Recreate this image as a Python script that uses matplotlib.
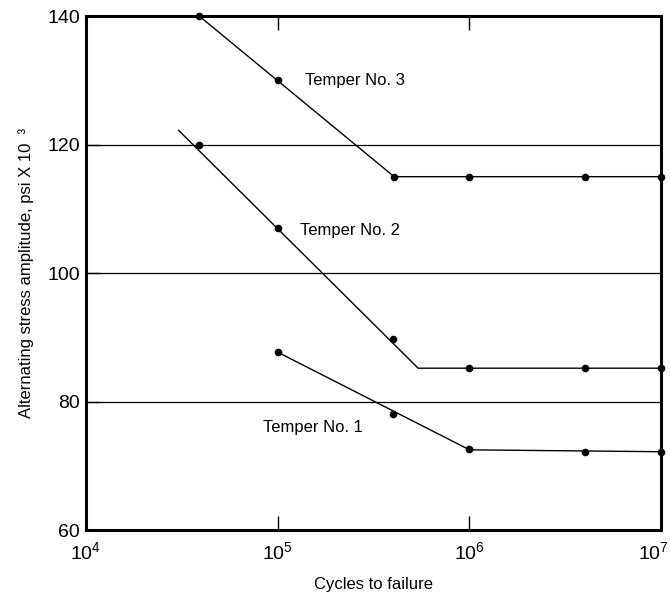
import matplotlib.pyplot as plt
from matplotlib.transforms import ScaledTranslation

plt.rcParams['font.family'] = ['Liberation Sans', 'DejaVu Sans']
plt.rcParams['mathtext.fontset'] = 'custom'
plt.rcParams['mathtext.rm'] = 'Liberation Sans'
plt.rcParams['mathtext.it'] = 'Liberation Sans:italic'

# Temper No. 3
t3_line_x = [3.9e4, 4.05e5, 1e7]
t3_line_y = [140, 115, 115]
t3_pts_x = [3.9e4, 1e5, 4.05e5, 1e6, 4e6, 1e7]
t3_pts_y = [140, 130, 115, 115, 115, 115]

# Temper No. 2
t2_line_x = [3.05e4, 5.4e5, 1e7]
t2_line_y = [122.2, 85.2, 85.2]
t2_pts_x = [3.9e4, 1e5, 4e5, 1e6, 4e6, 1e7]
t2_pts_y = [120, 107, 89.7, 85.2, 85.2, 85.2]

# Temper No. 1
t1_line_x = [1e5, 1e6, 1e7]
t1_line_y = [87.7, 72.5, 72.2]
t1_pts_x = [1e5, 4e5, 1e6, 4e6, 1e7]
t1_pts_y = [87.7, 78, 72.6, 72.2, 72.2]

labels = ['Temper No. 3', 'Temper No. 2', 'Temper No. 1']
label_x = [1.39e5, 1.31e5, 8.4e4]
label_y = [130.0, 106.7, 75.9]

y_ticks = [60, 80, 100, 120, 140]
x_ticks = [1e4, 1e5, 1e6, 1e7]
x_ticklabels = [r'$10^{4}$', r'$10^{5}$', r'$10^{6}$', r'$10^{7}$']

fig = plt.figure(figsize=(6.7, 5.93), dpi=100)
ax = fig.add_axes([0.128, 0.106, 0.859, 0.867])

for yv in [80, 100, 120]:
    ax.axhline(yv, color='black', lw=0.9, zorder=1)

for lx, ly, px, py in [(t3_line_x, t3_line_y, t3_pts_x, t3_pts_y),
                       (t2_line_x, t2_line_y, t2_pts_x, t2_pts_y),
                       (t1_line_x, t1_line_y, t1_pts_x, t1_pts_y)]:
    ax.plot(lx, ly, color='black', lw=1.0, zorder=2)
    ax.plot(px, py, 'o', color='black', ms=4.5, zorder=3, clip_on=False)

for txt, tx, ty in zip(labels, label_x, label_y):
    ax.text(tx, ty, txt, fontsize=12, ha='left', va='center')

ax.set_xscale('log')
ax.set_xlim(1e4, 1e7)
ax.set_ylim(60, 140)
ax.set_xticks(x_ticks)
ax.set_xticklabels(x_ticklabels)
ax.set_yticks(y_ticks)
ax.minorticks_off()
ax.tick_params(axis='both', direction='in', length=10, width=1, labelsize=14)
ax.tick_params(axis='x', top=True, pad=8)
ax.tick_params(axis='y', pad=4)

# pull the last x label in so it stays inside the figure
last = ax.get_xticklabels()[-1]
last.set_transform(last.get_transform() + ScaledTranslation(-6 / 72, 0, fig.dpi_scale_trans))

for sp in ax.spines.values():
    sp.set_linewidth(2.2)

ax.set_xlabel('Cycles to failure', fontsize=12, labelpad=10)
ax.set_ylabel('Alternating stress amplitude, psi X 10  \u00b3', fontsize=12, labelpad=10)

plt.savefig('out.png', dpi=100)
